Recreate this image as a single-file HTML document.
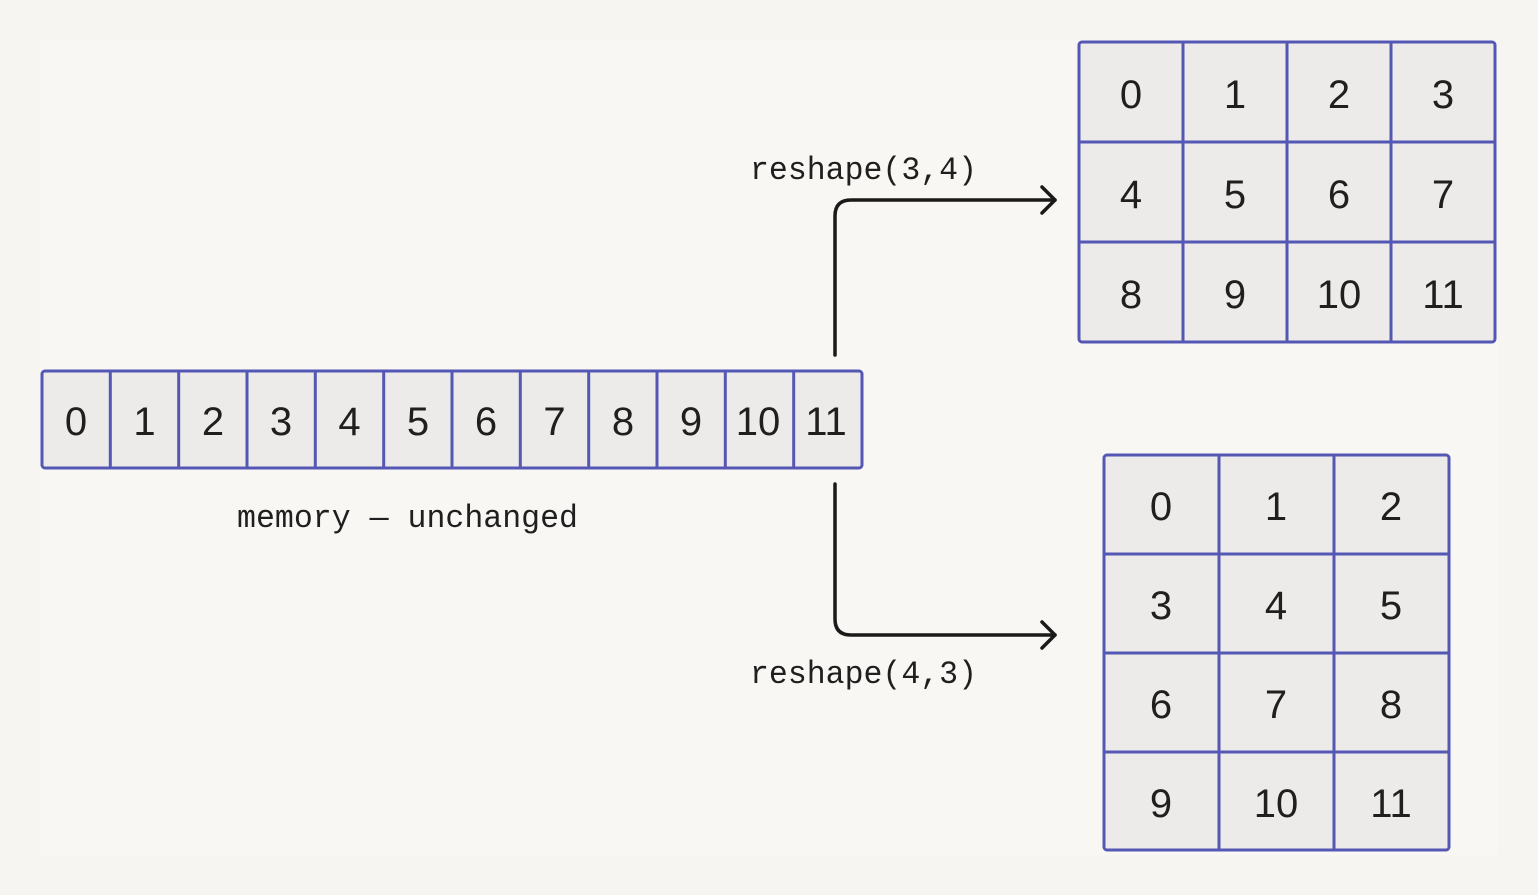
<!DOCTYPE html>
<html><head><meta charset="utf-8"><style>
html,body{margin:0;padding:0;background:#f6f5f2;}
svg{display:block}
</style></head><body>
<svg width="1538" height="895" viewBox="0 0 1538 895" xmlns="http://www.w3.org/2000/svg">
<rect width="1538" height="895" fill="#f6f5f2"/>
<rect x="40" y="40" width="1458" height="815" fill="#f8f7f4"/>
<g font-family="Liberation Sans, sans-serif" font-size="40" fill="#1f1f1f" text-anchor="middle">
<rect x="42" y="371" width="820" height="97" rx="3" fill="#ecebe9" stroke="#5557b5" stroke-width="3"/>
<g stroke="#5557b5" stroke-width="3">
<line x1="110.3" y1="371" x2="110.3" y2="468"/><line x1="178.7" y1="371" x2="178.7" y2="468"/>
<line x1="247" y1="371" x2="247" y2="468"/><line x1="315.3" y1="371" x2="315.3" y2="468"/>
<line x1="383.7" y1="371" x2="383.7" y2="468"/><line x1="452" y1="371" x2="452" y2="468"/>
<line x1="520.3" y1="371" x2="520.3" y2="468"/><line x1="588.7" y1="371" x2="588.7" y2="468"/>
<line x1="657" y1="371" x2="657" y2="468"/><line x1="725.3" y1="371" x2="725.3" y2="468"/>
<line x1="793.7" y1="371" x2="793.7" y2="468"/>
</g>
<text x="76" y="435">0</text><text x="144.5" y="435">1</text><text x="213" y="435">2</text><text x="281" y="435">3</text>
<text x="349.5" y="435">4</text><text x="418" y="435">5</text><text x="486" y="435">6</text><text x="554.5" y="435">7</text>
<text x="623" y="435">8</text><text x="691" y="435">9</text><text x="758" y="435">10</text><text x="826" y="435">11</text>
<rect x="1079" y="42" width="416" height="300" rx="3" fill="#ecebe9" stroke="#5557b5" stroke-width="3"/>
<g stroke="#5557b5" stroke-width="3">
<line x1="1183" y1="42" x2="1183" y2="342"/><line x1="1287" y1="42" x2="1287" y2="342"/><line x1="1391" y1="42" x2="1391" y2="342"/>
<line x1="1079" y1="142" x2="1495" y2="142"/><line x1="1079" y1="242" x2="1495" y2="242"/>
</g>
<text x="1131" y="108">0</text><text x="1235" y="108">1</text><text x="1339" y="108">2</text><text x="1443" y="108">3</text>
<text x="1131" y="208">4</text><text x="1235" y="208">5</text><text x="1339" y="208">6</text><text x="1443" y="208">7</text>
<text x="1131" y="308">8</text><text x="1235" y="308">9</text><text x="1339" y="308">10</text><text x="1443" y="308">11</text>
<rect x="1104" y="455" width="345" height="395" rx="3" fill="#ecebe9" stroke="#5557b5" stroke-width="3"/>
<g stroke="#5557b5" stroke-width="3">
<line x1="1219" y1="455" x2="1219" y2="850"/><line x1="1334" y1="455" x2="1334" y2="850"/>
<line x1="1104" y1="554" x2="1449" y2="554"/><line x1="1104" y1="653" x2="1449" y2="653"/><line x1="1104" y1="752" x2="1449" y2="752"/>
</g>
<text x="1161" y="520">0</text><text x="1276" y="520">1</text><text x="1391" y="520">2</text>
<text x="1161" y="619">3</text><text x="1276" y="619">4</text><text x="1391" y="619">5</text>
<text x="1161" y="718">6</text><text x="1276" y="718">7</text><text x="1391" y="718">8</text>
<text x="1161" y="817">9</text><text x="1276" y="817">10</text><text x="1391" y="817">11</text>
</g>
<g fill="none" stroke="#1a1a1a" stroke-width="3.5" stroke-linecap="round" stroke-linejoin="round">
<path d="M835 355 V216 Q835 200 851 200 H1055"/>
<path d="M1042 187 L1055 200 L1042 213"/>
<path d="M835 484 V619 Q835 635 851 635 H1055"/>
<path d="M1042 622 L1055 635 L1042 648"/>
</g>
<g font-family="Liberation Mono, monospace" font-size="32" fill="#1f1f1f">
<text x="750" y="179" textLength="227" lengthAdjust="spacingAndGlyphs">reshape(3,4)</text>
<text x="750" y="683" textLength="227" lengthAdjust="spacingAndGlyphs">reshape(4,3)</text>
<text x="237" y="527" textLength="341" lengthAdjust="spacingAndGlyphs">memory — unchanged</text>
</g>
</svg>
</body></html>
